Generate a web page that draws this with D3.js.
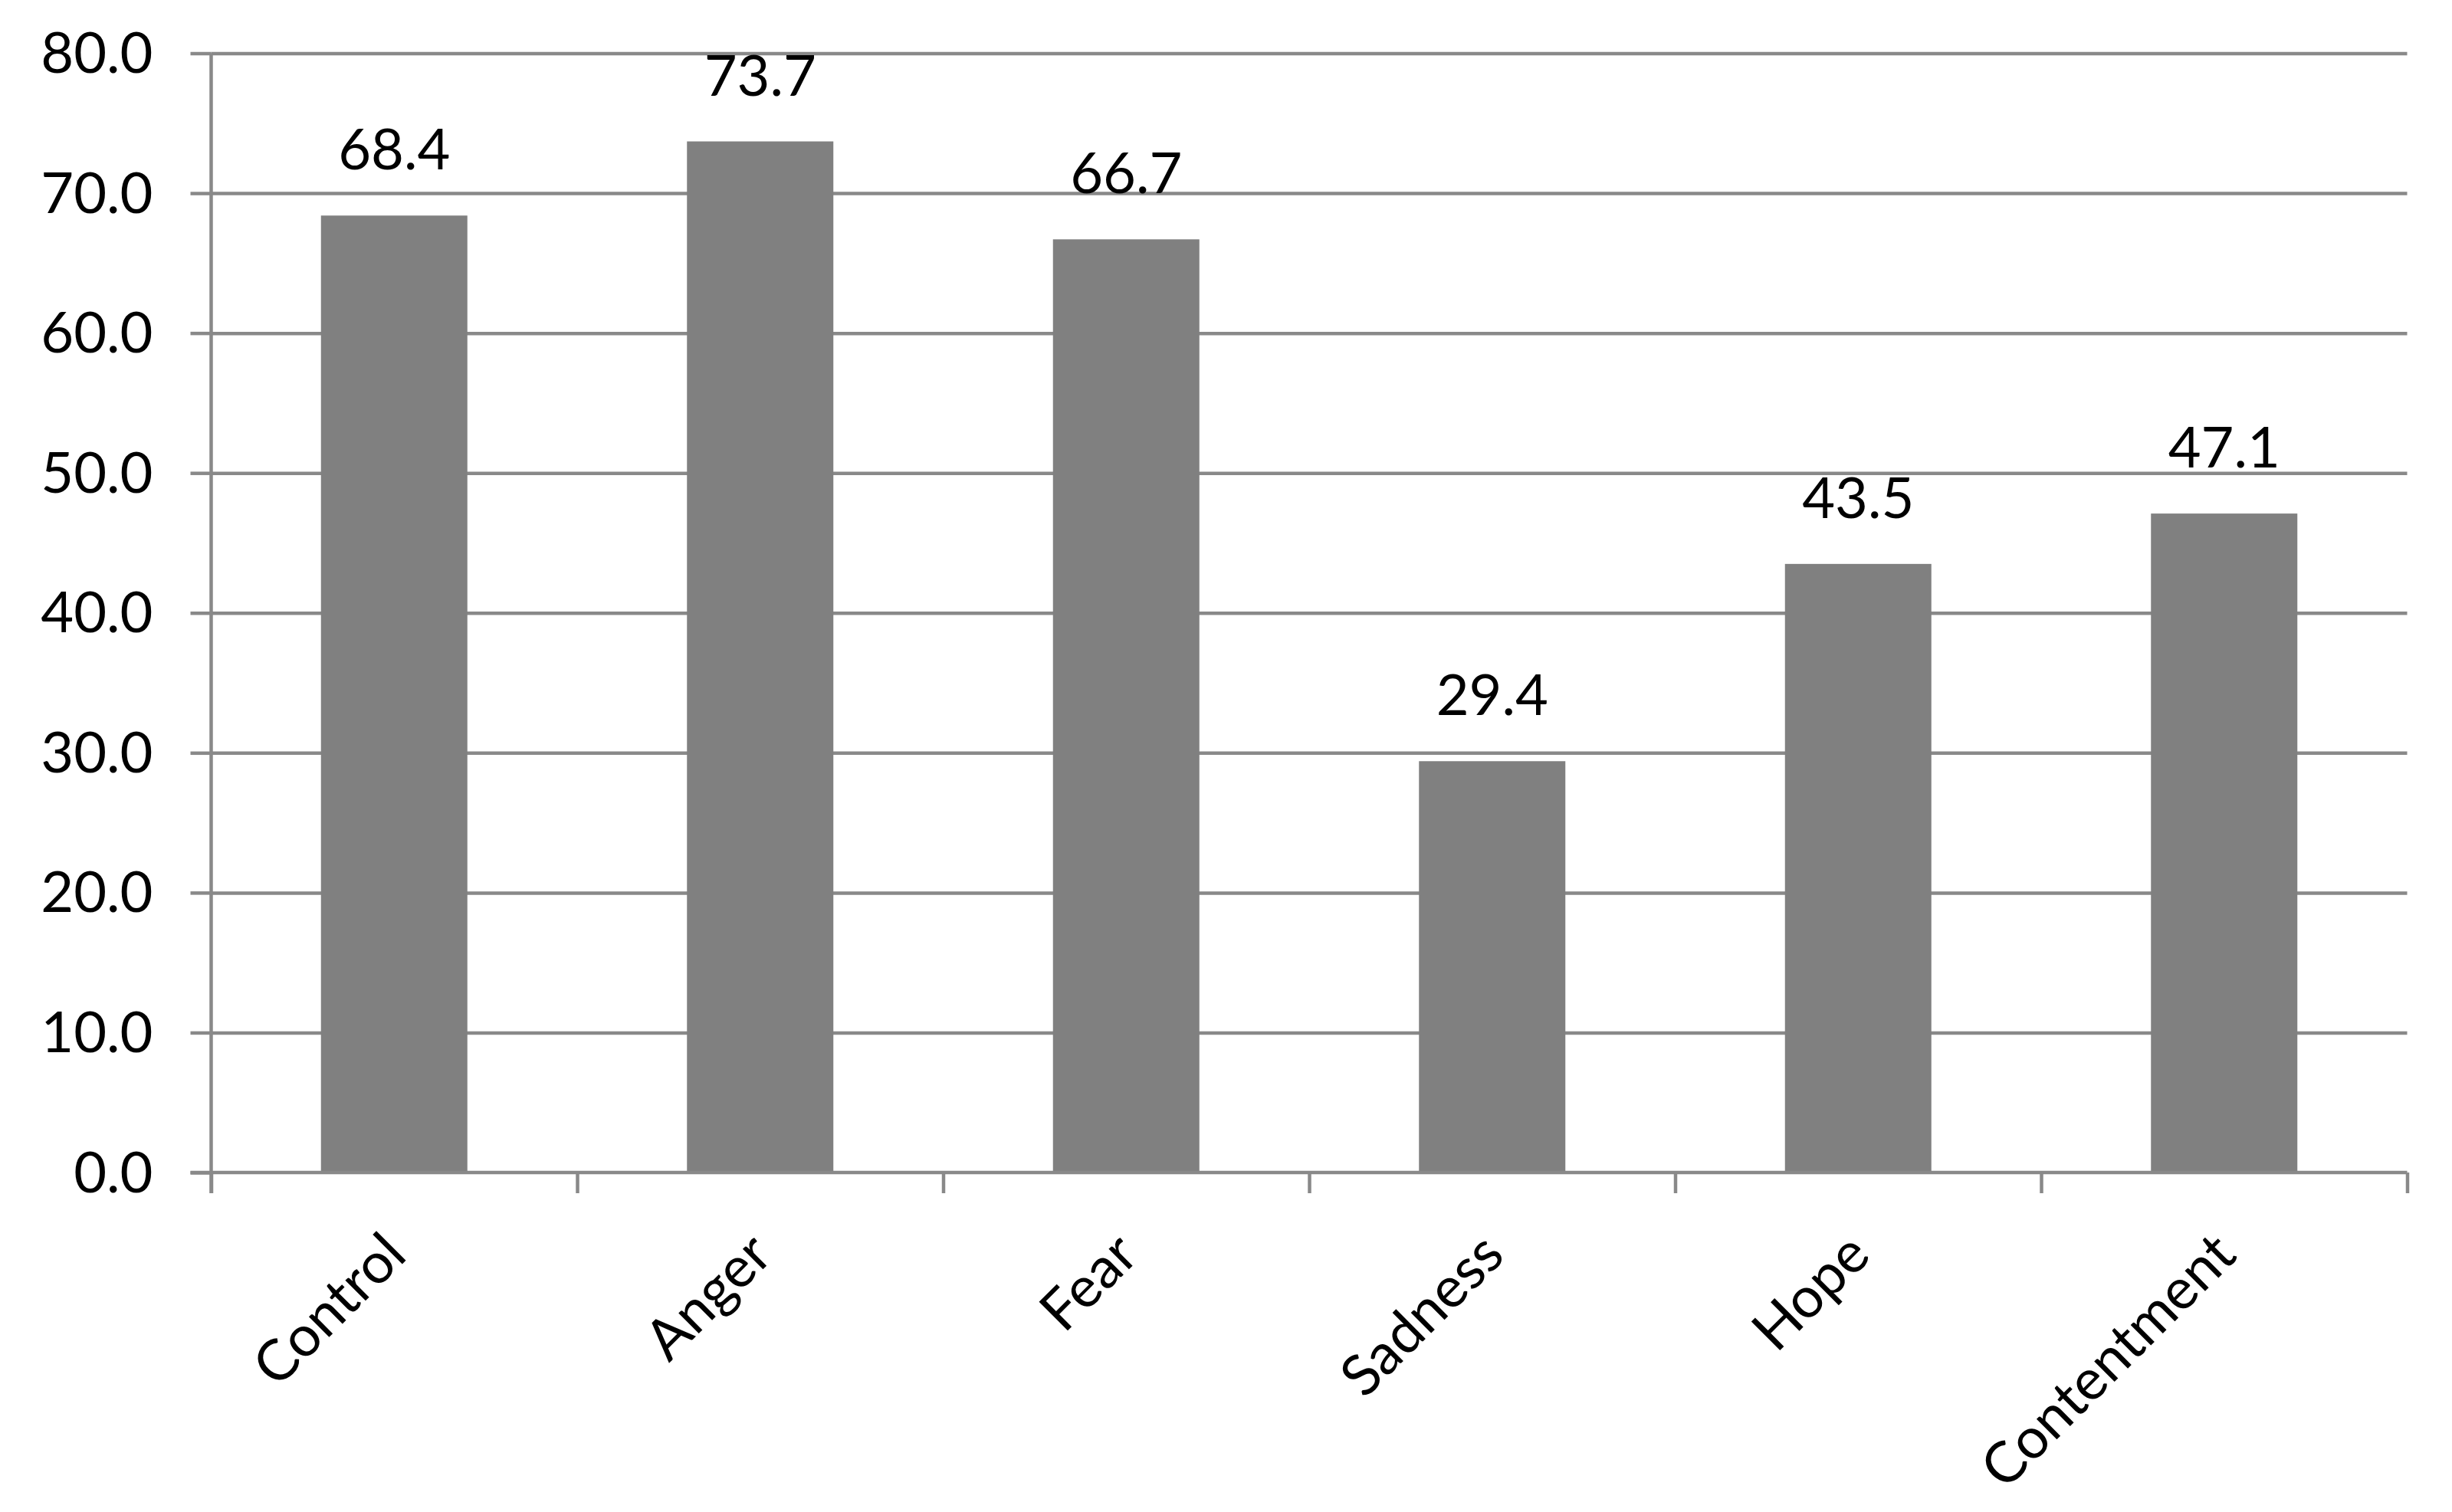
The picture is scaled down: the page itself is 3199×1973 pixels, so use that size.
<!DOCTYPE html>
<html>
<head>
<meta charset="utf-8">
<script src="https://cdn.jsdelivr.net/npm/d3@7"></script>
<style>
  html, body { margin: 0; padding: 0; background: #ffffff; }
  svg { display: block; }
  text { font-family: Lato, "Open Sans", sans-serif; fill: #000; }
</style>
</head>
<body>
<svg id="chart" width="3199" height="1973"></svg>
<script>
const categories = ["Control", "Anger", "Fear", "Sadness", "Hope", "Contentment"];
const values = [68.4, 73.7, 66.7, 29.4, 43.5, 47.1];
const yTickValues = [0, 10, 20, 30, 40, 50, 60, 70, 80];

(function () {
const W = 3199, H = 1973;
const pLeft = 275.5, pRight = 3140.5, pTop = 69.5, pBottom = 1530;
const lineColor = "#898989", barColor = "#808080", lineW = 4.5;
const fontSize = 74;

const svg = d3.select("#chart");
svg.append("rect").attr("width", W).attr("height", H).attr("fill", "#fff");

const x = d3.scaleBand().domain(categories).range([pLeft, pRight])
  .paddingInner(0.6).paddingOuter(0.3);
const y = d3.scaleLinear().domain([0, 80]).range([pBottom, pTop]);
const xb = d3.scaleLinear().domain([0, categories.length]).range([pLeft, pRight]);

// gridlines
const grid = svg.append("g").attr("transform", `translate(${pLeft},0)`)
  .call(d3.axisLeft(y).tickValues(yTickValues.slice(1)).tickSize(-(pRight - pLeft)).tickFormat(""));
grid.select(".domain").remove();
grid.selectAll("line").attr("stroke", lineColor).attr("stroke-width", lineW);

// bars
svg.append("g").selectAll("rect").data(values).join("rect")
  .attr("x", (d, i) => x(categories[i]))
  .attr("y", d => y(d))
  .attr("width", x.bandwidth())
  .attr("height", d => y(0) - y(d))
  .attr("fill", barColor);

// data labels
svg.append("g").selectAll("text").data(values).join("text")
  .attr("x", (d, i) => x(categories[i]) + x.bandwidth() / 2)
  .attr("y", d => y(d) - 60)
  .attr("text-anchor", "middle")
  .attr("font-size", fontSize)
  .text(d => d.toFixed(1));

// y axis
const ya = svg.append("g").attr("transform", `translate(${pLeft},0)`)
  .call(d3.axisLeft(y).tickValues(yTickValues).tickSize(27).tickSizeOuter(0).tickPadding(49)
    .tickFormat(d3.format(".1f")));
ya.select(".domain").attr("stroke", lineColor).attr("stroke-width", lineW)
  .attr("d", `M0,${pTop}V${pBottom + 27}`);
ya.selectAll(".tick line").attr("stroke", lineColor).attr("stroke-width", lineW);
ya.selectAll(".tick text").attr("font-size", fontSize).attr("font-family", "Lato, 'Open Sans', sans-serif")
  .attr("fill", "#000").attr("dy", null).attr("y", 25);

// x axis (boundary ticks)
const xa = svg.append("g").attr("transform", `translate(0,${pBottom})`)
  .call(d3.axisBottom(xb).tickValues(d3.range(categories.length + 1)).tickSize(27).tickSizeOuter(0).tickFormat(""));
xa.select(".domain").attr("stroke", lineColor).attr("stroke-width", lineW)
  .attr("d", `M${pLeft - 27},0H${pRight}`);
xa.selectAll(".tick line").attr("stroke", lineColor).attr("stroke-width", lineW);

// category labels
svg.append("g").selectAll("text").data(categories).join("text")
  .attr("transform", d => `translate(${x(d) + x.bandwidth() / 2 + 19},${pBottom + 111}) rotate(-45)`)
  .attr("text-anchor", "end")
  .attr("font-size", fontSize)
  .text(d => d);
})();
</script>
</body>
</html>
